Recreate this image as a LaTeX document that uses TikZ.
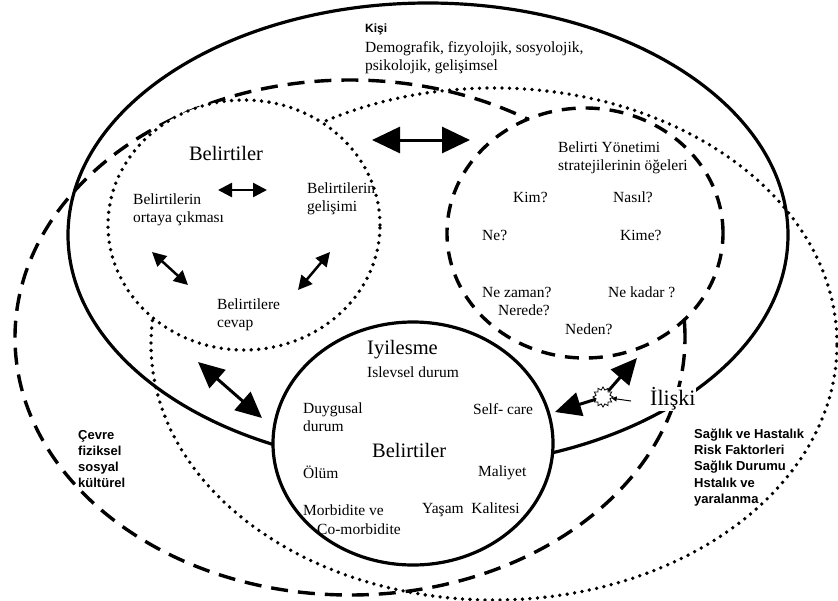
\documentclass[tikz,border=0pt]{standalone}
\usepackage{fontspec}
\setmainfont{Liberation Serif}
\setsansfont{Liberation Sans}
\usetikzlibrary{arrows.meta,shapes.geometric}

\begin{document}
\begin{tikzpicture}[
  x=1pt, y=-1pt,
  solidring/.style={
    ellipse,
    draw,
    line width=3.2pt,
    inner sep=0pt,
  },
  dashring/.style={
    ellipse,
    draw,
    line width=3.4pt,
    dash pattern=on #1 off 10pt,
    inner sep=0pt,
  },
  dotring/.style={
    ellipse,
    draw,
    line width=3.8pt,
    line cap=round,
    dash pattern=on 0pt off 7.5pt,
    inner sep=0pt,
  },
  lbl/.style={
    font=\fontsize{15.5}{18}\selectfont,
    align=left,
    inner sep=0pt,
    anchor=west,
  },
  big/.style={
    font=\fontsize{20.5}{24}\selectfont,
    inner sep=0pt,
    anchor=west,
  },
  bsans/.style={
    font=\sffamily\bfseries\fontsize{13}{16.2}\selectfont,
    align=left,
    inner sep=0pt,
    anchor=west,
  },
  bigarr/.style={
    {Triangle[length=28pt,width=26pt]}-{Triangle[length=28pt,width=26pt]},
    line width=3pt,
  },
  smallarr/.style={
    {Triangle[length=14pt,width=14pt]}-{Triangle[length=14pt,width=14pt]},
    line width=2.5pt,
  },
  sun/.style={
    star,
    star points=12,
    star point ratio=1.4,
    draw,
    line width=0.8pt,
    fill=white,
    minimum size=20pt,
    inner sep=0pt,
  },
]
\useasboundingbox (0,0) rectangle (838,600);

% Outer rings
\node[dashring=17pt, minimum width=670pt, minimum height=515pt] (cevre) at (350,337.5) {};
\node[dotring, minimum width=686pt, minimum height=512pt] (saglik) at (494,344) {};
\node[solidring, minimum width=720pt, minimum height=464pt] (kisi) at (428,235) {};

% Inner circles
\node[dotring, fill=white, minimum width=272pt, minimum height=250pt] (belirti) at (244,225) {};
\node[dashring=14pt, fill=white, minimum width=276pt, minimum height=250pt] (yonetim) at (585,233) {};
\node[solidring, fill=white, minimum width=280pt, minimum height=243pt] (sonuc) at (413,443.5) {};

% Kisi
\node[bsans, font=\sffamily\bfseries\fontsize{12}{14}\selectfont] (kisiT) at (365,29) {Kişi};
\node[lbl] (demoT) at (365,58) {Demografik, fizyolojik, sosyolojik,\\psikolojik, gelişimsel};

% Belirtiler circle
\node[big, anchor=center] (belT) at (226,153) {Belirtiler};
\node[lbl] (ortaya) at (133,210) {Belirtilerin\\ortaya çıkması};
\node[lbl] (gelisim) at (307,199) {Belirtilerin\\gelişimi};
\node[lbl] (cevap) at (217,315) {Belirtilere\\cevap};

% Belirti Yonetimi circle
\node[lbl] (yonT) at (558,157.5) {Belirti Yönetimi\\stratejilerinin öğeleri};
\node[lbl] (kim) at (513,197) {Kim?};
\node[lbl] (nasil) at (613,197) {Nasıl?};
\node[lbl] (ne) at (482,235) {Ne?};
\node[lbl] (kime) at (620,235) {Kime?};
\node[lbl] (nezaman) at (482,292) {Ne zaman?};
\node[lbl] (nekadar) at (608,292) {Ne kadar ?};
\node[lbl] (nerede) at (498,310) {Nerede?};
\node[lbl] (neden) at (565,329) {Neden?};

% Sonuc circle
\node[big] (iyiT) at (367,350) {Iyilesme};
\node[lbl] (islev) at (367,372) {Islevsel durum};
\node[lbl] (duygu) at (303,417.5) {Duygusal\\durum};
\node[lbl] (self) at (473,409) {Self- care};
\node[big] (belLow) at (372,450) {Belirtiler};
\node[lbl] (olum) at (303,472) {Ölüm};
\node[lbl] (maliyet) at (478,473) {Maliyet};
\node[lbl] (morb) at (303,510) {Morbidite ve};
\node[lbl] (comorb) at (317,529) {Co-morbidite};
\node[lbl] (yasam) at (422,510) {Yaşam\ \ Kalitesi};

% Side labels
\node[big, font=\fontsize{22}{26}\selectfont, fill=white, inner sep=1pt] (iliski) at (649,399) {İlişki};
\node[bsans] (cevreT) at (78,459) {Çevre\\fiziksel\\sosyal\\kültürel};
\node[bsans] (saglikT) at (694,467.5) {Sağlık ve Hastalık\\Risk Faktorleri\\Sağlık Durumu\\Hstalık ve\\yaralanma};

% Arrow ends
\coordinate (topL) at (372,140);
\coordinate (topR) at (470,140);
\coordinate (inL) at (218,190);
\coordinate (inR) at (267,190);
\coordinate (dgA1) at (152,252);
\coordinate (dgA2) at (188,285);
\coordinate (dgB1) at (330,252);
\coordinate (dgB2) at (298,290);
\coordinate (lowA) at (198,362);
\coordinate (lowB) at (262,418);
\coordinate (relTip) at (637,358);
\coordinate (selfTip) at (555,412);
\coordinate (smTail) at (631,401);

\node[sun] (sun) at (603,397) {};

% Arrows
\draw[bigarr] (topL) -- (topR);
\draw[smallarr] (inL) -- (inR);
\draw[smallarr] (dgA1) -- (dgA2);
\draw[smallarr] (dgB1) -- (dgB2);
\draw[bigarr, {Triangle[length=26pt,width=24pt]}-{Triangle[length=26pt,width=24pt]}] (lowA) -- (lowB);
\draw[line width=3pt, {Triangle[length=26pt,width=24pt]}-] (relTip) -- (sun);
\draw[line width=3pt, -{Triangle[length=26pt,width=24pt]}] (sun) -- (selfTip);
\draw[line width=1pt, -{Triangle[length=5pt,width=5pt]}] (smTail) -- (sun);

\end{tikzpicture}
\end{document}
